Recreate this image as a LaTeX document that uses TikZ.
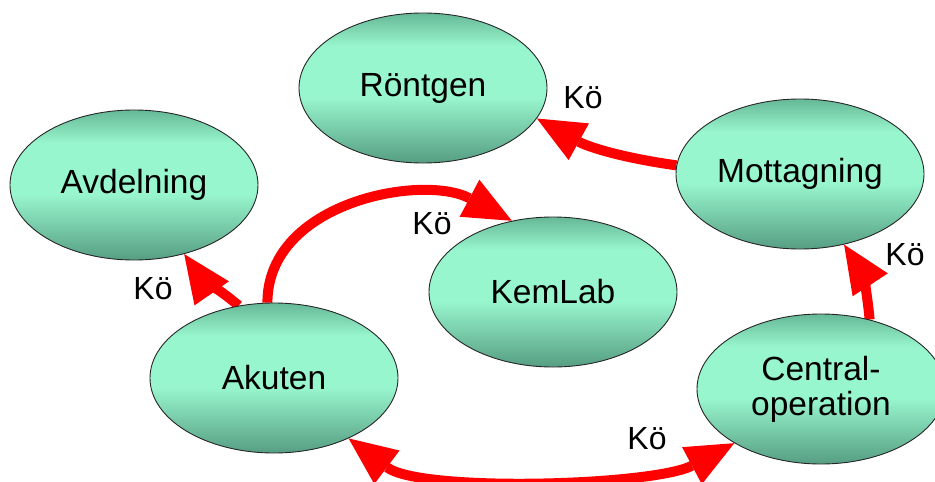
\documentclass[tikz,border=0pt]{standalone}
\usepackage{fontspec}
\setmainfont{Liberation Sans}
\usetikzlibrary{arrows.meta,shapes.geometric,backgrounds}
\definecolor{ovtop}{RGB}{102,184,150}
\definecolor{ovlight}{RGB}{152,246,206}
\definecolor{ovbot}{RGB}{86,158,130}
\definecolor{arrred}{RGB}{255,0,0}
\pgfdeclareverticalshading{ovalshade}{100bp}{color(0bp)=(ovbot); color(25bp)=(ovbot); color(47bp)=(ovlight); color(64bp)=(ovlight); color(75bp)=(ovtop); color(100bp)=(ovtop)}
\begin{document}
\begin{tikzpicture}[x=1pt,y=-1pt,
  oval/.style={ellipse, draw=black!85, line width=0.9pt, shading=ovalshade,
    minimum width=248pt, minimum height=150pt, inner sep=0pt,
    font=\fontsize{33.5}{35}\selectfont, align=center},
  bigtip/.tip={Triangle[length=48pt,width=42pt,line width=0pt]},
  flow/.style={draw=arrred, line width=10pt, -bigtip},
  flowboth/.style={draw=arrred, line width=10pt, bigtip-bigtip},
  kolabel/.style={font=\fontsize{32}{34}\selectfont, inner sep=0pt}]
\useasboundingbox (0,0) rectangle (935,482);
\clip (0,0) rectangle (935,482);
\node[oval] (rontgen) at (423,88) {Röntgen};
\node[oval] (avdelning) at (134,185) {Avdelning};
\node[oval] (mottagning) at (800,174) {Mottagning};
\node[oval] (kemlab) at (553,292) {KemLab};
\node[oval] (akuten) at (274,378) {Akuten};
\node[oval] (central) at (821,389) {Central-\\operation};
\node[kolabel] (k1) at (583,98) {Kö};
\node[kolabel] (k2) at (432,224) {Kö};
\node[kolabel] (k3) at (153,289) {Kö};
\node[kolabel] (k4) at (905,255) {Kö};
\node[kolabel] (k5) at (647,439) {Kö};
\begin{scope}[on background layer]
\clip (0,0) rectangle (935,482);
\draw[flow] (mottagning.176) to[out=172,in=-29] (rontgen.-15);
\draw[flow] (akuten.95) to[out=90,in=152] (kemlab.120);
\draw[flow] (akuten.116) to[out=140,in=-55] (avdelning.-54);
\draw[flow] (central.55) to[out=95,in=-57] (mottagning.-58);
\draw[flowboth] (akuten.-39) to[out=-37,in=-152,looseness=0.6] (central.212);
\end{scope}
\end{tikzpicture}
\end{document}
